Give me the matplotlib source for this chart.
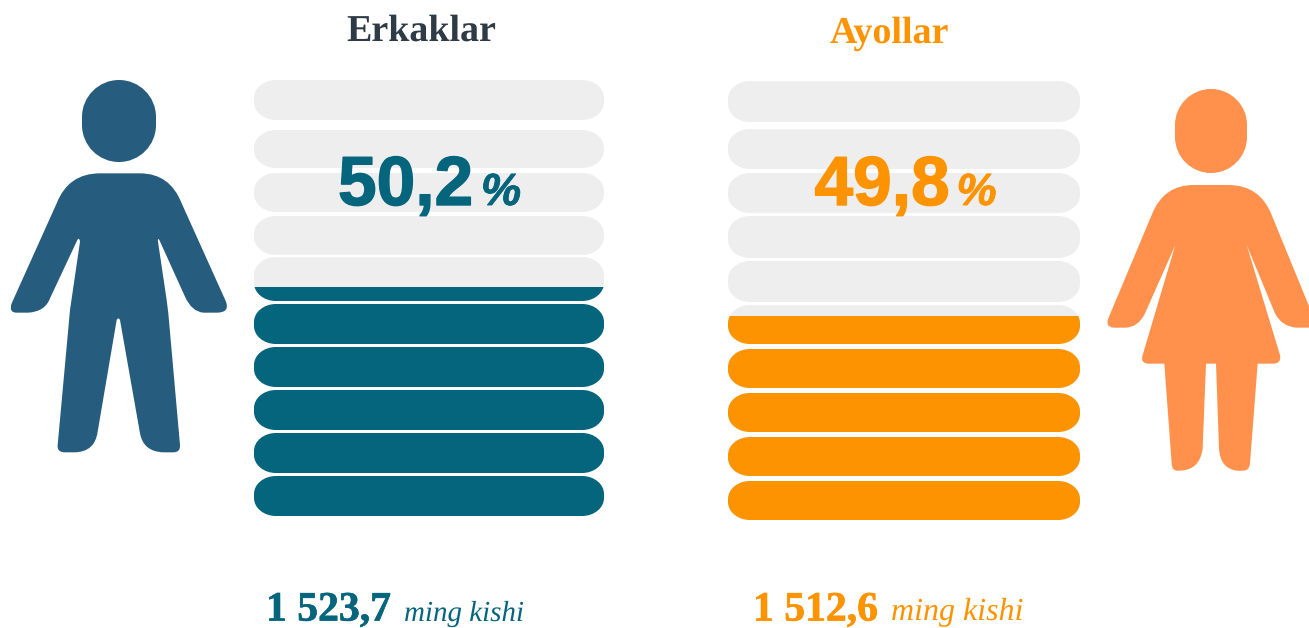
import matplotlib
matplotlib.use("Agg")
import matplotlib.pyplot as plt
import matplotlib.patheffects as pe
from matplotlib.patches import PathPatch, Rectangle
from matplotlib.path import Path

plt.rcParams["text.hinting"] = "no_hinting"
plt.rcParams["text.hinting_factor"] = 1

W, H = 1309, 628

titles = ["Erkaklar", "Ayollar"]
shares = ["50,2", "49,8"]
counts = ["1 523,7", "1 512,6"]
unit = "ming kishi"

TEAL = "#05657D"
ORANGE = "#FE9300"
GREY = "#EEEEEE"
MAN = "#265D7E"
WOMAN = "#FF914D"
DARK = "#2E3A46"

# pixel layout of the stacked rows (top, bottom)
men_rows = [(80, 120), (130, 168), (173, 212), (216, 255), (257, 301),
            (304, 344), (347, 387), (390, 430), (433, 473), (476, 516)]
women_rows = [(81, 122), (129, 169), (173, 213), (216, 258), (261, 302),
              (305, 344), (349, 388), (393, 432), (437, 476), (481, 520)]
men_fill_top = 287
women_fill_top = 316

# icon outlines, traced in zoomed pixels: L = line to, Q = ctrl + end
man_body = [(300, 310), "L", (420, 310), "Q", (510, 310), (545, 400), "L", (678, 695),
            "Q", (690, 728), (650, 728), "L", (610, 728), "Q", (575, 725), (555, 680),
            "L", (478, 510), "Q", (472, 502), (474, 515), "L", (500, 690), "L", (505, 730),
            "L", (540, 1125), "Q", (542, 1147), (520, 1147), "L", (490, 1147),
            "Q", (430, 1145), (420, 1090), "L", (360, 750), "Q", (355, 740), (350, 750),
            "L", (293, 1085), "Q", (285, 1145), (225, 1147), "L", (195, 1147),
            "Q", (170, 1147), (173, 1125), "L", (210, 720), "L", (240, 515),
            "Q", (238, 500), (232, 510), "L", (150, 685), "Q", (135, 725), (85, 728),
            "L", (50, 728), "Q", (25, 728), (35, 700), "L", (170, 400), "Q", (205, 310), (300, 310)]
woman_body = [(280, 315), "L", (385, 315), "Q", (480, 315), (515, 405), "L", (640, 710),
              "Q", (650, 743), (627, 743), "L", (590, 743), "Q", (545, 740), (525, 700),
              "L", (440, 495), "L", (540, 825), "Q", (545, 851), (520, 851), "L", (473, 851),
              "L", (450, 1150), "Q", (448, 1172), (430, 1172), "L", (410, 1172),
              "Q", (360, 1165), (357, 1105), "L", (348, 851), "L", (318, 851), "L", (308, 1105),
              "Q", (300, 1170), (240, 1172), "L", (230, 1172), "Q", (215, 1170), (215, 1150),
              "L", (193, 851), "L", (145, 851), "Q", (120, 850), (128, 825), "L", (226, 495),
              "L", (135, 700), "Q", (115, 743), (75, 743), "L", (40, 743), "Q", (15, 740), (25, 715),
              "L", (155, 405), "Q", (190, 315), (280, 315)]


def trace(outline, x0, y0):
    verts = [outline[0]]
    codes = [Path.MOVETO]
    i = 1
    while i < len(outline):
        if outline[i] == "L":
            verts.append(outline[i + 1])
            codes.append(Path.LINETO)
            i += 2
        else:
            verts += [outline[i + 1], outline[i + 2]]
            codes += [Path.CURVE3, Path.CURVE3]
            i += 3
    verts = [(x0 + x / 3, y0 + y / 3) for x, y in verts]
    return Path(verts, codes)


def pill(x0, x1, top, bottom, color, rx=22, ry=18):
    # rounded box with true elliptical corners
    k = 0.5523
    cx, cy = rx * (1 - k), ry * (1 - k)
    verts = [(x0 + rx, top), (x1 - rx, top),
             (x1 - cx, top), (x1, top + cy), (x1, top + ry),
             (x1, bottom - ry),
             (x1, bottom - cy), (x1 - cx, bottom), (x1 - rx, bottom),
             (x0 + rx, bottom),
             (x0 + cx, bottom), (x0, bottom - cy), (x0, bottom - ry),
             (x0, top + ry),
             (x0, top + cy), (x0 + cx, top), (x0 + rx, top),
             (x0 + rx, top)]
    C = Path.CURVE4
    L = Path.LINETO
    codes = [Path.MOVETO, L, C, C, C, L, C, C, C, L, C, C, C, L, C, C, C, Path.CLOSEPOLY]
    return PathPatch(Path(verts, codes), fc=color, ec="none")


def draw_stack(ax, rows, x0, x1, fill_top, color):
    for top, bottom in rows:
        ax.add_patch(pill(x0, x1, top, bottom, GREY))
        if bottom > fill_top:
            p = pill(x0, x1, top, bottom, color)
            ax.add_patch(p)
            p.set_clip_path(Rectangle((x0 - 5, fill_top), x1 - x0 + 10, H - fill_top,
                                      transform=ax.transData))


def heavy(color, w=0.6):
    # the reference text is a bit heavier than plain bold
    return [pe.withStroke(linewidth=w, foreground=color)]


fig = plt.figure(figsize=(W / 100, H / 100), dpi=100)
ax = fig.add_axes([0, 0, 1, 1])
ax.set_xlim(0, W)
ax.set_ylim(H, 0)
ax.axis("off")

draw_stack(ax, men_rows, 254, 604, men_fill_top, TEAL)
draw_stack(ax, women_rows, 728, 1080, women_fill_top, ORANGE)

# icons
ax.add_patch(pill(82, 156, 80, 162, MAN, rx=37, ry=37))
ax.add_patch(PathPatch(trace(man_body, 0, 70), fc=MAN, ec="none"))
ax.add_patch(pill(1175, 1247, 89, 173, WOMAN, rx=36, ry=36))
ax.add_patch(PathPatch(trace(woman_body, 1100, 80), fc=WOMAN, ec="none"))

SERIF = "Liberation Serif"
SANS = "Liberation Sans"

ax.text(421.5, 41, titles[0], family=SERIF, weight="bold", fontsize=27, color=DARK, ha="center", va="baseline")
ax.text(889, 43, titles[1], family=SERIF, weight="bold", fontsize=27, color=ORANGE, ha="center", va="baseline")

ax.text(338, 205, shares[0], family=SANS, weight="bold", fontsize=50, color=TEAL, va="baseline",
        path_effects=heavy(TEAL, 1.0))
ax.text(481, 205, "%", family=SANS, weight="bold", style="italic", fontsize=32.5, color=TEAL, va="baseline",
        path_effects=heavy(TEAL))
ax.text(814.5, 205, shares[1], family=SANS, weight="bold", fontsize=50, color=ORANGE, va="baseline",
        path_effects=heavy(ORANGE, 1.0))
ax.text(956.5, 205, "%", family=SANS, weight="bold", style="italic", fontsize=32.5, color=ORANGE, va="baseline",
        path_effects=heavy(ORANGE))

# bottom line sits right against the figure edge
ax.text(266, 620.5, counts[0], family=SERIF, weight="bold", fontsize=30, color=TEAL, va="baseline",
        path_effects=heavy(TEAL, 0.5))
ax.text(404, 621, unit, family=SERIF, style="italic", fontsize=21, color=TEAL, va="baseline")
ax.text(753, 620.5, counts[1], family=SERIF, weight="bold", fontsize=30, color=ORANGE, va="baseline",
        path_effects=heavy(ORANGE, 0.5))
ax.text(891, 620.5, unit, family=SERIF, style="italic", fontsize=22.8, color=ORANGE, va="baseline")

fig.savefig("out.png", dpi=100)
